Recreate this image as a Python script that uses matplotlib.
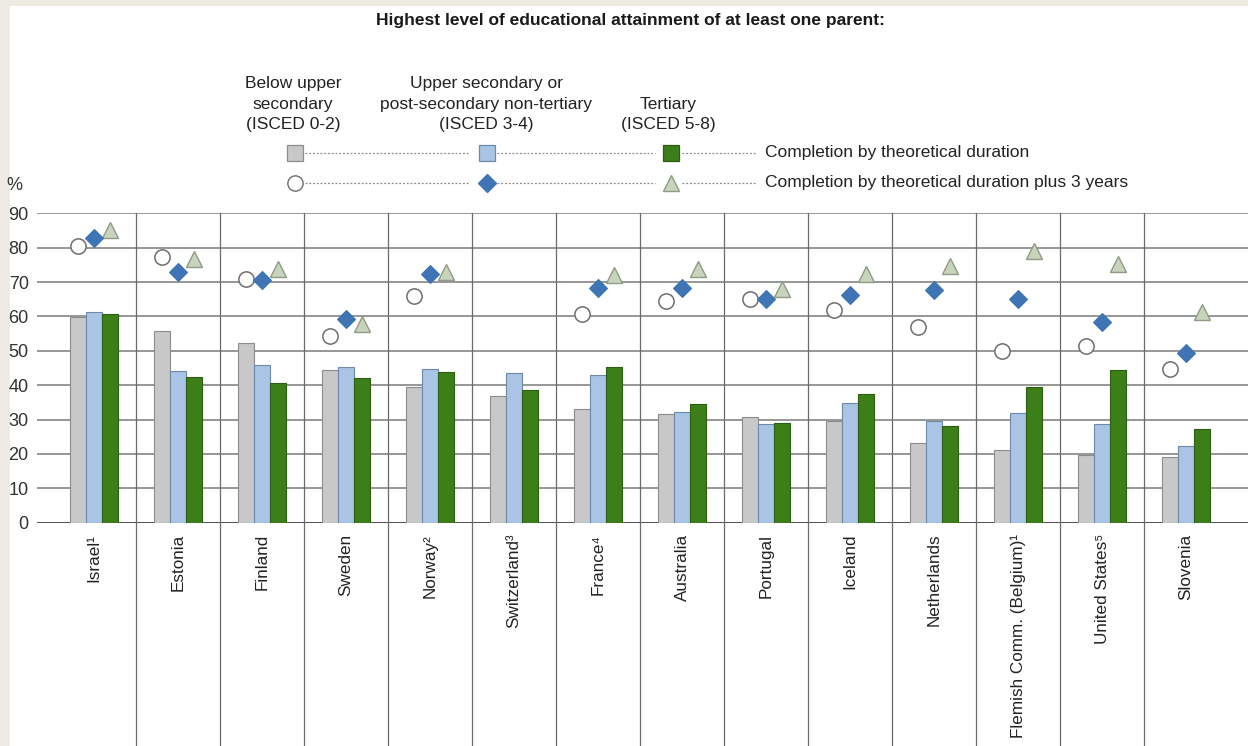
import matplotlib
matplotlib.use('Agg')
import matplotlib.pyplot as plt
from matplotlib.lines import Line2D
from matplotlib.patches import Rectangle
import numpy as np

nan = np.nan
countries = ["Israel¹", "Estonia", "Finland", "Sweden", "Norway²", "Switzerland³", "France⁴",
             "Australia", "Portugal", "Iceland", "Netherlands", "Flemish Comm. (Belgium)¹",
             "United States⁵", "Slovenia"]
below_theor = [59.7, 55.9, 52.2, 44.4, 39.6, 37.0, 33.1, 31.5, 30.7, 29.7, 23.3, 21.1, 19.7, 19.0]
upper_theor = [61.3, 44.2, 46.0, 45.4, 44.6, 43.6, 43.0, 32.2, 28.7, 34.7, 29.7, 32.0, 28.6, 22.4]
tert_theor = [60.8, 42.3, 40.5, 42.0, 43.9, 38.5, 45.2, 34.4, 28.9, 37.5, 28.1, 39.5, 44.5, 27.3]
below_plus3 = [80.5, 77.2, 71.0, 54.4, 65.9, nan, 60.6, 64.6, 65.1, 61.9, 57.0, 50.0, 51.5, 44.7]
upper_plus3 = [82.9, 72.9, 70.5, 59.3, 72.2, nan, 68.2, 68.3, 65.1, 66.2, 67.7, 65.2, 58.3, 49.3]
tert_plus3 = [85.0, 76.7, 73.7, 57.8, 73.0, nan, 72.0, 73.9, 67.9, 72.4, 74.8, 78.9, 75.3, 61.4]
yticks = [0, 10, 20, 30, 40, 50, 60, 70, 80, 90]

NARROW = ['Liberation Sans Narrow', 'Liberation Sans', 'DejaVu Sans']
REG = ['Liberation Sans', 'DejaVu Sans']

W, H = 1248, 746
fig = plt.figure(figsize=(W / 100, H / 100), dpi=100, facecolor='#EEEBE2')
fig.patches.append(Rectangle((10 / W, 0), 1, 1 - 6 / H, transform=fig.transFigure,
                             facecolor='white', edgecolor='none', zorder=-10))

def fx(px):
    return px / W

def fy(py):
    return 1 - py / H

ax = fig.add_axes([fx(37), fy(522.7), 1 - fx(37), (522.7 - 213.3) / H])
ax.set_facecolor('white')
n = len(countries)
x = np.arange(n)
bw = 0.19
c_gray, c_blue, c_green = '#C8C8C8', '#A9C4E4', '#3C7F18'
e_gray, e_blue, e_green = '#8C8C8C', '#6F89A8', '#2B5E10'

ax.bar(x - bw, below_theor, bw, color=c_gray, edgecolor=e_gray, linewidth=0.8, zorder=3)
ax.bar(x, upper_theor, bw, color=c_blue, edgecolor=e_blue, linewidth=0.8, zorder=3)
ax.bar(x + bw, tert_theor, bw, color=c_green, edgecolor=e_green, linewidth=0.8, zorder=3)

ax.plot(x - bw, below_plus3, 'o', ms=11, mfc='white', mec='#6E6E6E', mew=1.1, ls='none', zorder=4)
ax.plot(x, upper_plus3, 'D', ms=9.5, mfc='#3F74B5', mec='#3F74B5', mew=0.8, ls='none', zorder=5)
ax.plot(x + bw, tert_plus3, '^', ms=11, mfc='#C8D4BC', mec='#8E9C84', mew=1.0, ls='none', zorder=4)

ax.set_ylim(0, 90)
ax.set_xlim((37 - 94) / 84, (1248 - 94) / 84)
ax.set_yticks(yticks)
ax.set_yticklabels([str(v) for v in yticks], family=NARROW, fontsize=13, color='#333333')
ax.tick_params(axis='y', length=0, pad=6)
ax.tick_params(axis='x', length=0, pad=8)
ax.set_xticks(x)
ax.set_xticklabels(countries, rotation=90, family=REG, fontsize=12.3, color='#222222', va='top')
for s in ax.spines.values():
    s.set_visible(False)
for v in yticks:
    ax.axhline(v, color='#404040' if v == 0 else '#808080', lw=1.3 if v == 0 else 1.15, zorder=1)
for i in range(n - 1):
    ax.plot([i + 0.5, i + 0.5], [1.0, -0.75], transform=ax.get_xaxis_transform(),
            color='#6A6A6A', lw=0.9, clip_on=False, zorder=2)

fig.text(fx(14), fy(186), '%', family=NARROW, fontsize=13, color='#333333', ha='center', va='center')

# Legend
fig.text(fx(630), fy(20), 'Highest level of educational attainment of at least one parent:',
         family=NARROW, fontsize=12.5, fontweight='bold', ha='center', va='center', color='#1A1A1A')
hdr = [(293, "Below upper\nsecondary\n(ISCED 0-2)"),
       (486, "Upper secondary or\npost-secondary non-tertiary\n(ISCED 3-4)"),
       (668, "Tertiary\n(ISCED 5-8)")]
for px, t in hdr:
    fig.text(fx(px), fy(132), t, family=NARROW, fontsize=12.5, ha='center', va='bottom',
             linespacing=1.45, color='#222222')

row1, row2 = 153, 183
segs = [(305, 470), (497, 655), (682, 756)]
for py in (row1, row2):
    for a, b in segs:
        fig.add_artist(Line2D([fx(a), fx(b)], [fy(py), fy(py)], transform=fig.transFigure,
                              color='#8A8A8A', lw=0.9, ls=(0, (1.5, 1.5))))
mk1 = [(295, 's', c_gray, e_gray), (487, 's', c_blue, e_blue), (671, 's', c_green, e_green)]
for px, m, fc, ec in mk1:
    fig.add_artist(Line2D([fx(px)], [fy(row1)], transform=fig.transFigure, marker=m, ms=11,
                          mfc=fc, mec=ec, mew=0.9, ls='none'))
mk2 = [(295, 'o', 'white', '#6E6E6E', 11), (487, 'D', '#3F74B5', '#3F74B5', 9.5),
       (671, '^', '#C8D4BC', '#8E9C84', 11)]
for px, m, fc, ec, ms in mk2:
    fig.add_artist(Line2D([fx(px)], [fy(row2)], transform=fig.transFigure, marker=m, ms=ms,
                          mfc=fc, mec=ec, mew=1.0, ls='none'))
fig.text(fx(765), fy(row1), 'Completion by theoretical duration', family=NARROW, fontsize=12.5,
         ha='left', va='center', color='#222222')
fig.text(fx(765), fy(row2), 'Completion by theoretical duration plus 3 years', family=NARROW,
         fontsize=12.5, ha='left', va='center', color='#222222')

fig.savefig('out.png', dpi=100, facecolor=fig.get_facecolor())
